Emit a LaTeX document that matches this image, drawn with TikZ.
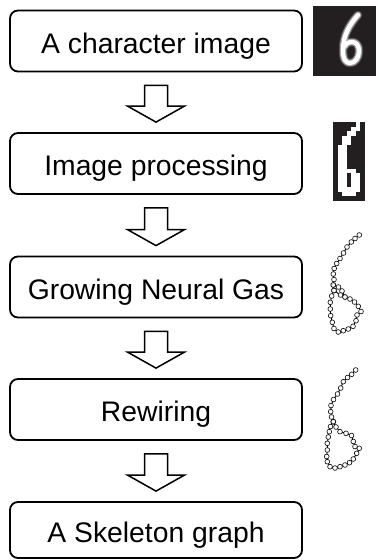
\documentclass[tikz,border=0pt]{standalone}
\usepackage{fontspec}
\setmainfont{Liberation Sans}
\usetikzlibrary{calc}
\definecolor{imgblack}{RGB}{35,31,32}
\tikzset{
  stepbox/.style={draw, rounded corners=8pt, line width=1.8pt, minimum width=292pt,
    minimum height=61pt, inner sep=0pt, text height=24pt, text depth=0pt,
    font=\fontsize{28.3}{30}\selectfont},
  hollowarrow/.style={draw, line width=1.5pt, fill=white, line join=miter},
  gng/.style={line width=0.9pt, mark=*, mark size=2.4pt,
    mark options={fill=white, line width=0.6pt}},
}
\begin{document}
\begin{tikzpicture}[x=1pt, y=1pt]
  \useasboundingbox (0,0) rectangle (378,-560);
  % steps
  \node[stepbox] (char) at (156,-41) {A character image};
  \node[stepbox] (proc) at (156,-163.5) {Image processing};
  \node[stepbox] (gas) at (156,-287) {Growing Neural Gas};
  \node[stepbox] (rew) at (156,-409.5) {Rewiring};
  \node[stepbox, minimum height=56pt] (skel) at (156,-530) {A Skeleton graph};
  % hollow arrows between steps
  \foreach \a/\b in {char/proc, proc/gas, gas/rew, rew/skel} {
    \coordinate (top) at ($(\a.south)+(0,-13)$);
    \coordinate (tip) at ($(\b.north)+(0,10)$);
    \draw[hollowarrow] ($(top)+(-11.5,0)$) -- ($(top)+(11.5,0)$) -- ($(tip)+(11.5,16)$)
      -- ($(tip)+(28.5,16)$) -- (tip) -- ($(tip)+(-28.5,16)$) -- ($(tip)+(-11.5,16)$) -- cycle;
  }
  % character image
  \fill[imgblack] (313,-6) rectangle (376,-76);
  \foreach \w/\o in {8.5/.2, 6.5/.5, 4.2/1}
    \draw[white, opacity=\o, line width=\w pt, line cap=round, line join=round]
      (358,-15) .. controls (350,-24) and (343,-35) .. (343,-50)
      .. controls (343,-60) and (346,-63) .. (350,-63)
      .. controls (355,-63) and (359,-58) .. (359,-51)
      .. controls (359,-45) and (356,-42) .. (352,-42)
      .. controls (348,-42) and (345,-44) .. (344,-47);
  % processed image
  \fill[imgblack] (333,-122) rectangle (365,-201);
  \foreach \r/\cs in {0/{5},1/{4,5},2/{3,4},3/{2,3},4/{2,3},5/{1,2},6/{1,2},7/{1,2},
      8/{1,2},9/{1,2},10/{1,2,3,4},11/{1,2,4,5},12/{1,2,4,5},13/{1,2,4,5},
      14/{1,2,3,4,5},15/{2,3,4}}
    \foreach \c in \cs
      \fill[white] ({333+\c*4.57},{-122-\r*4.65}) rectangle ++(4.57,-4.65);
  % growing neural gas
  \draw[gng] plot coordinates {(359.3,-235) (355,-238.5) (351.3,-242) (347,-247)
    (343.5,-253) (340,-258.5) (336.7,-263.5) (334.2,-268.5) (333.3,-274)
    (334,-279.5) (333.3,-285) (334,-290.5)};
  \draw[gng] plot coordinates {(333.3,-285) (338.5,-287) (342,-291) (345,-297)};
  \draw[gng] plot coordinates {(334,-290.5) (331.7,-296) (330.3,-302.3) (330.3,-309)
    (330.7,-315.7) (332.3,-322.3) (334,-328.5) (338.3,-332) (343.3,-330.7)
    (348.3,-329) (353,-326.3) (356,-320.7) (357,-315) (361,-311.5) (358.3,-306.3)
    (354.5,-302) (350,-299) (345,-297) (340.5,-295) (334,-290.5)};
  % rewired graph
  \draw[gng] plot coordinates {(355.7,-370) (351.7,-374.3) (347.5,-377.5)
    (343.3,-381.7) (340.7,-388) (337.5,-394) (333.5,-399.5) (331,-405.5)
    (330.7,-411.7) (331.5,-417) (333.3,-421.7)};
  \draw[gng] plot coordinates {(333.3,-421.7) (336,-427) (340,-431.7) (346,-433.3)
    (351.5,-435.5) (353.3,-441.5) (355,-446.5) (359.3,-448.3) (356.7,-453.3)
    (353.3,-459) (349.5,-462.7) (345,-465) (340,-466.7) (335,-468) (330,-466.7)
    (327.3,-461.7) (326.7,-456.5) (327.3,-450) (327.3,-443.3) (328.3,-437)
    (329.3,-431.7) (330.5,-426.5) (333.3,-421.7)};
\end{tikzpicture}
\end{document}
